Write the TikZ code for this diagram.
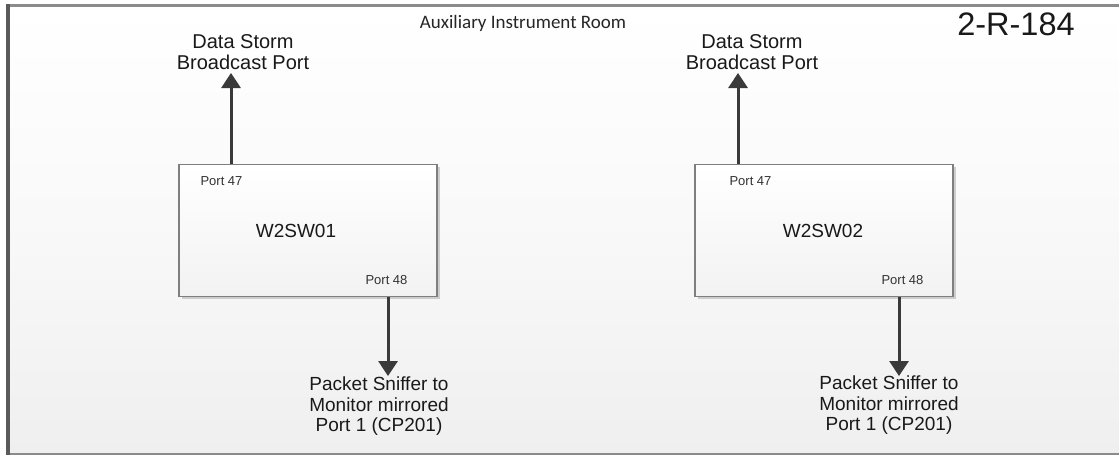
\documentclass[tikz,border=0pt]{standalone}
\usepackage{fontspec}
\setmainfont{Liberation Sans}
\newfontfamily\calibrifont{Carlito}
\usetikzlibrary{arrows.meta,shadows}
\definecolor{framegray}{HTML}{5A5A5A}
\definecolor{boxedge}{HTML}{7F7F7F}
\definecolor{bgtop}{HTML}{FFFFFF}
\definecolor{bgbot}{HTML}{EFEFEF}
\definecolor{arrowgray}{HTML}{3A3A3A}
\tikzset{
  x=1pt, y=-1pt,
  switchbox/.style={draw=boxedge, line width=1.2pt, top color=white, bottom color=bgbot!80,
    minimum width=258pt, minimum height=132pt, inner sep=0pt,
    drop shadow={shadow xshift=2.5pt, shadow yshift=-2.5pt, fill=black!30, opacity=0.6}},
  switchname/.style={font=\fontsize{19}{22}\selectfont, text=black!90},
  portlabel/.style={font=\fontsize{13}{15}\selectfont, text=black!80, anchor=base west},
  endlabel/.style={align=center, text=black!90, inner sep=0pt},
  toplabel/.style={endlabel, font=\fontsize{20}{20.5}\selectfont},
  botlabel/.style={endlabel, font=\fontsize{19}{20.5}\selectfont},
  link/.style={draw=arrowgray, line width=3pt, -{Triangle[width=19pt,length=15pt]}}
}
\begin{document}
\begin{tikzpicture}
\useasboundingbox (0,0) rectangle (1119,455);
% room background and frame
\shade[top color=bgtop, bottom color=bgbot, middle color=bgbot!40] (8,5) rectangle (1119,454);
\draw[framegray!70, line width=3pt] (7,5) -- (1119,5);
\draw[framegray!70, line width=2pt] (7,454) -- (1119,454);
\draw[framegray, line width=3.5pt] (8,4) -- (8,455);

% titles
\node[font=\calibrifont\fontsize{19}{22}\selectfont, text=black!85] (room) at (523,23) {Auxiliary Instrument Room};
\node[font=\fontsize{32.5}{35}\selectfont, text=black!90] (tag) at (1016,24) {2-R-184};

% switches
\node[switchbox] (sw1) at (308,230.5) {};
\node[switchbox] (sw2) at (824,230.5) {};
\node[switchname] (n1) at (296,231) {W2SW01};
\node[switchname] (n2) at (823,231) {W2SW02};

\node[portlabel] (p47a) at (197,185) {Port 47};
\node[portlabel] (p47b) at (726,185) {Port 47};
\node[portlabel] (p48a) at (362,284) {Port 48};
\node[portlabel] (p48b) at (878,284) {Port 48};

% endpoints
\node[toplabel] (ds1) at (243,52) {Data Storm\\Broadcast Port};
\node[toplabel] (ds2) at (752,52) {Data Storm\\Broadcast Port};
\node[botlabel] (ps1) at (379,406.5) {Packet Sniffer to\\Monitor mirrored\\Port 1 (CP201)};
\node[botlabel] (ps2) at (889,405.5) {Packet Sniffer to\\Monitor mirrored\\Port 1 (CP201)};

\coordinate (u1) at (231,73);
\coordinate (u2) at (738,73);
\coordinate (d1) at (388,376);
\coordinate (d2) at (899,376);

% links
\draw[link] (sw1.north -| u1) -- (u1);
\draw[link] (sw2.north -| u2) -- (u2);
\draw[link] (sw1.south -| d1) -- (d1);
\draw[link] (sw2.south -| d2) -- (d2);
\end{tikzpicture}
\end{document}
